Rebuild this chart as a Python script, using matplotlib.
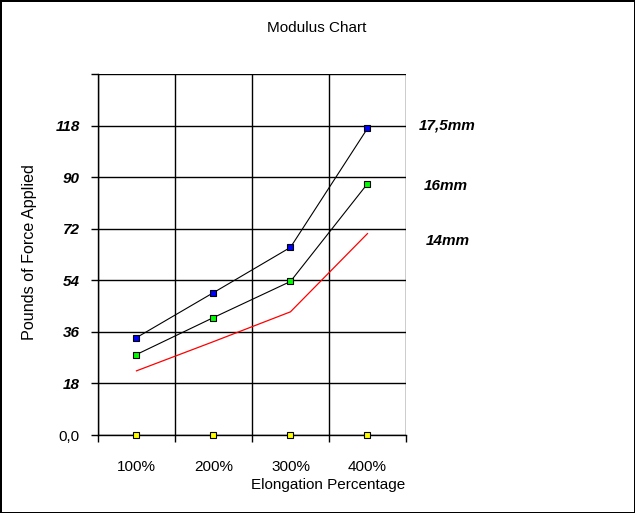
import numpy as np
import matplotlib
matplotlib.use('Agg')
import matplotlib.pyplot as plt

plt.rcParams['font.family'] = ['Liberation Sans', 'DejaVu Sans']

categories = ['100%', '200%', '300%', '400%']
force_175 = [34.0, 49.7, 65.5, 107.0]
force_16 = [28.1, 41.0, 53.6, 87.7]
force_14 = [22.4, 32.6, 43.0, 70.3]
force_base = [0, 0, 0, 0]
series_labels = ['17,5mm', '16mm', '14mm']
ytick_vals = [0, 18, 36, 54, 72, 90, 108, 126]
ytick_labels = ['0,0', '18', '36', '54', '72', '90', '118', '']

fig = plt.figure(figsize=(6.35, 5.13), dpi=100)
fig.patch.set_edgecolor('black')
fig.patch.set_linewidth(2)
ax = fig.add_axes([0.1543, 0.152, 0.485, 0.7037])

x = np.arange(len(categories))
ax.plot(x, force_175, color='black', lw=0.8, marker='s', ms=5,
        mfc='#0000ff', mec='black', mew=0.8, zorder=3)
ax.plot(x, force_16, color='black', lw=0.8, marker='s', ms=5,
        mfc='#00ff00', mec='black', mew=0.8, zorder=3)
ax.plot(x, force_14, color='red', lw=0.9, zorder=3)
ax.plot(x, force_base, ls='none', marker='s', ms=5,
        mfc='#ffff00', mec='black', mew=0.8, zorder=4, clip_on=False)

ax.set_xlim(-0.5, 3.5)
ax.set_ylim(0, 126)
ax.set_xticks(x)
ax.set_xticklabels(categories, fontsize=11)
ax.set_xticks(np.arange(-0.5, 4, 1), minor=True)
ax.tick_params(axis='x', which='major', length=0, pad=18)
ax.tick_params(axis='x', which='minor', length=5, width=1, direction='out')
ax.set_yticks(ytick_vals)
ax.set_yticklabels(ytick_labels, fontsize=11)
for t in ax.get_yticklabels()[1:]:
    t.set_fontstyle('italic')
    t.set_fontweight('bold')
ax.tick_params(axis='y', length=5, width=1, pad=8)
ax.grid(True, which='minor', axis='x', color='black', lw=1)
ax.grid(True, which='major', axis='y', color='black', lw=1)
for s in ['top', 'right']:
    ax.spines[s].set_visible(False)
for s in ['left', 'bottom']:
    ax.spines[s].set_linewidth(1)
ax.set_facecolor('white')

fig.text(0.498, 0.945, 'Modulus Chart', ha='center', va='center', fontsize=11)
fig.text(0.047, 0.508, 'Pounds of Force Applied', rotation=90,
         ha='center', va='center', fontsize=11.6)
fig.text(0.517, 0.054, 'Elongation Percentage', ha='center', va='center', fontsize=11)

label_y = [125, 186, 241]
label_x = [447, 446, 448]
for lab, px, py in zip(series_labels, label_x, label_y):
    fig.text(px / 635, 1 - py / 513, lab, ha='center', va='center',
             fontsize=11, fontstyle='italic', fontweight='bold')

fig.savefig('out.png', dpi=100, edgecolor=fig.get_edgecolor())
